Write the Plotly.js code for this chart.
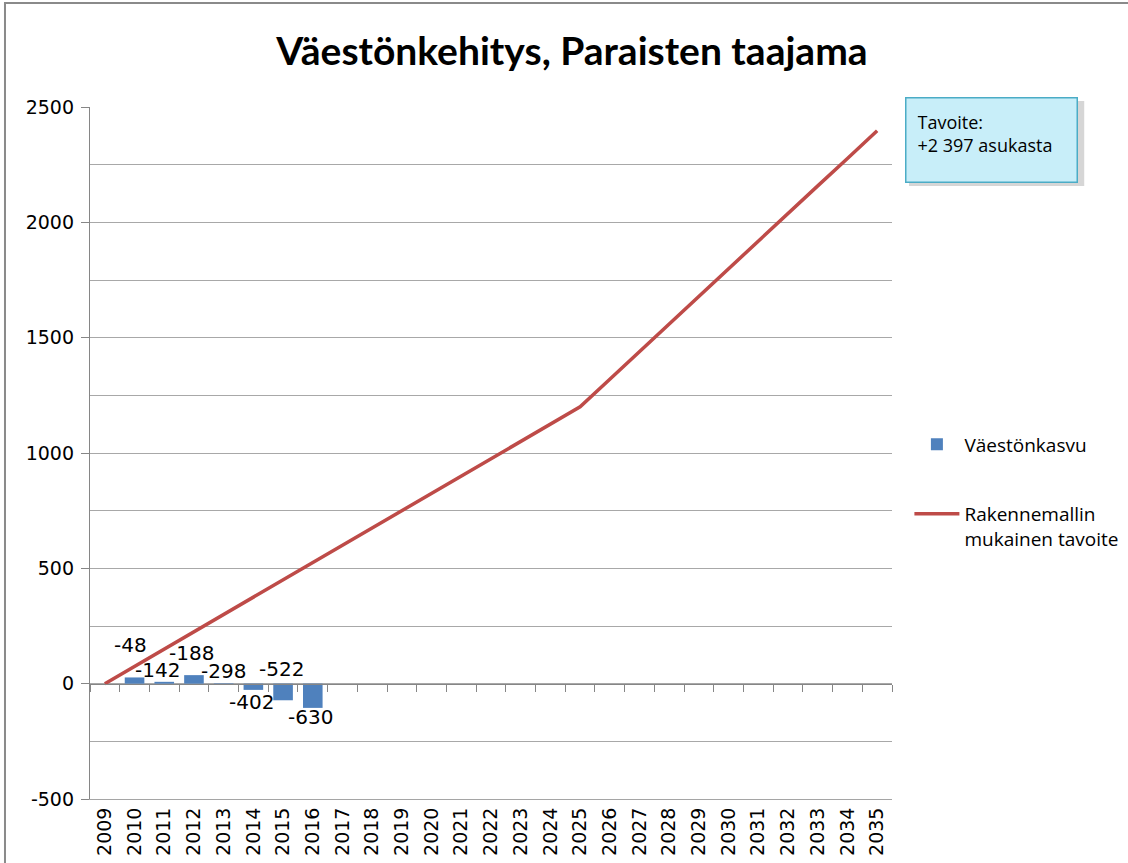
<!DOCTYPE html>
<html>
<head>
<meta charset="utf-8">
<script src="https://cdn.plot.ly/plotly-3.0.1.min.js"></script>
<style>
  html, body { margin: 0; padding: 0; background: #ffffff; }
  #chart { width: 1128px; height: 863px; }
</style>
</head>
<body>
<div id="chart"></div>
<script>
// ---- data ----
const years = ['2009','2010','2011','2012','2013','2014','2015','2016','2017','2018',
               '2019','2020','2021','2022','2023','2024','2025','2026','2027','2028',
               '2029','2030','2031','2032','2033','2034','2035'];
const barYears = ['2010','2011','2012','2013','2014','2015','2016'];
const growth = [27, 8, 37, 2, -27, -72, -105];
const gapLabels = ['-48','-142','-188','-298','-402','-522','-630'];
const target = [0, 75, 150, 225, 300, 375, 450, 525, 600, 675,
                750, 825, 900, 975, 1050, 1125, 1200, 1320, 1439, 1559,
                1679, 1799, 1918, 2038, 2158, 2277, 2397];
const yTickVals = [-500, 0, 500, 1000, 1500, 2000, 2500];
const yTickText = ['-500', '0', '500', '1000', '1500', '2000', '2500'];
const barName = 'Väestönkasvu';
const lineName = 'Rakennemallin<br>mukainen tavoite';
const titleText = 'Väestönkehitys, Paraisten taajama';
const boxText = 'Tavoite:<br>+2 397 asukasta';

// ---- label placement (pixel offsets, layout only) ----
const labelShiftY = [32, 12, 22, 12, -12, 31, -9];
const labelShiftX = [-4, -7, -2, 0, -2, -2, -2];

const traces = [
  {
    type: 'bar', name: barName, x: barYears, y: growth,
    xaxis: 'x', yaxis: 'y',
    marker: { color: '#4f81bd' },
    legendgroup: 'a', hoverinfo: 'x+y'
  },
  {
    type: 'scatter', mode: 'lines', name: lineName, x: years, y: target,
    xaxis: 'x2', yaxis: 'y',
    line: { color: '#be4b48', width: 3.5 },
    legendgroup: 'b'
  }
];

const annotations = barYears.map((yr, i) => ({
  xref: 'x', yref: 'y', x: years.indexOf(yr), y: growth[i],
  text: gapLabels[i], showarrow: false,
  xanchor: 'center', yanchor: 'middle',
  xshift: labelShiftX[i], yshift: labelShiftY[i],
  font: { family: 'DejaVu Sans', size: 20, color: '#000000' }
}));

annotations.push({
  xref: 'paper', yref: 'paper', x: 1.0162, y: 1.0145,
  xanchor: 'left', yanchor: 'top',
  text: boxText, showarrow: false, align: 'left', valign: 'top',
  width: 148, height: 61, borderpad: 11,
  bgcolor: '#c8eef9', bordercolor: '#4bacc6', borderwidth: 1.5,
  font: { family: 'Open Sans', size: 18, color: '#000000' }
});

const shapes = [
  // drop shadow of the note box
  { type: 'rect', xref: 'paper', yref: 'paper', layer: 'below',
    x0: 1.0212, x1: 1.2397, y0: 0.8860, y1: 1.0087,
    fillcolor: 'rgba(0,0,0,0.16)', line: { width: 0 } },
  // outer chart frame (left and top edges visible)
  { type: 'rect', xref: 'paper', yref: 'paper', layer: 'above',
    x0: -0.1060, x1: 1.6, y0: -0.5, y1: 1.1503,
    line: { color: '#8a8a8a', width: 2 }, fillcolor: 'rgba(0,0,0,0)' }
];

const layout = {
  width: 1128, height: 863,
  margin: { l: 90, r: 236, t: 107, b: 64, pad: 0, autoexpand: false },
  paper_bgcolor: '#ffffff', plot_bgcolor: '#ffffff',
  title: {
    text: titleText,
    font: { family: 'Lato', size: 39, weight: 700, color: '#000000' },
    x: 0.507, xanchor: 'center', xref: 'container',
    y: 0.94, yanchor: 'middle', yref: 'container'
  },
  bargap: 0.34,
  showlegend: true,
  legend: {
    x: 1.0217, xanchor: 'left', y: 0.54, yanchor: 'top',
    font: { family: 'Open Sans', size: 19, color: '#000000' },
    itemwidth: 45, tracegroupgap: 42, valign: 'top',
    traceorder: 'grouped', bgcolor: 'rgba(0,0,0,0)'
  },
  xaxis: {
    type: 'category', categoryorder: 'array', categoryarray: years,
    range: [-0.5, 26.5],
    showline: true, linecolor: '#a5a5a5', linewidth: 1,
    ticks: '', tickangle: -90,
    tickfont: { family: 'DejaVu Sans', size: 19, color: '#000000' },
    showgrid: false, zeroline: false, fixedrange: true
  },
  xaxis2: {
    type: 'category', categoryorder: 'array', categoryarray: years,
    overlaying: 'x', matches: 'x', anchor: 'free', position: 1 / 6, side: 'bottom',
    showline: true, linecolor: '#868686', linewidth: 1.2,
    ticks: 'outside', tickson: 'boundaries', ticklen: 7, tickcolor: '#868686',
    showticklabels: false, showgrid: false, zeroline: false
  },
  yaxis: {
    range: [-500, 2500], tickmode: 'array', tickvals: yTickVals, ticktext: yTickText,
    showgrid: true, gridcolor: '#a8a8a8', gridwidth: 1,
    minor: { dtick: 250, tick0: 0, showgrid: true, gridcolor: '#a8a8a8', gridwidth: 1, ticks: '' },
    showline: true, linecolor: '#868686', linewidth: 1.2,
    ticks: 'outside', ticklen: 8, tickcolor: '#868686',
    tickfont: { family: 'DejaVu Sans', size: 19, color: '#000000' },
    ticklabelstandoff: 3,
    zeroline: false, fixedrange: true
  },
  annotations: annotations,
  shapes: shapes
};

Plotly.newPlot('chart', traces, layout, { displayModeBar: false, staticPlot: true });
</script>
</body>
</html>
